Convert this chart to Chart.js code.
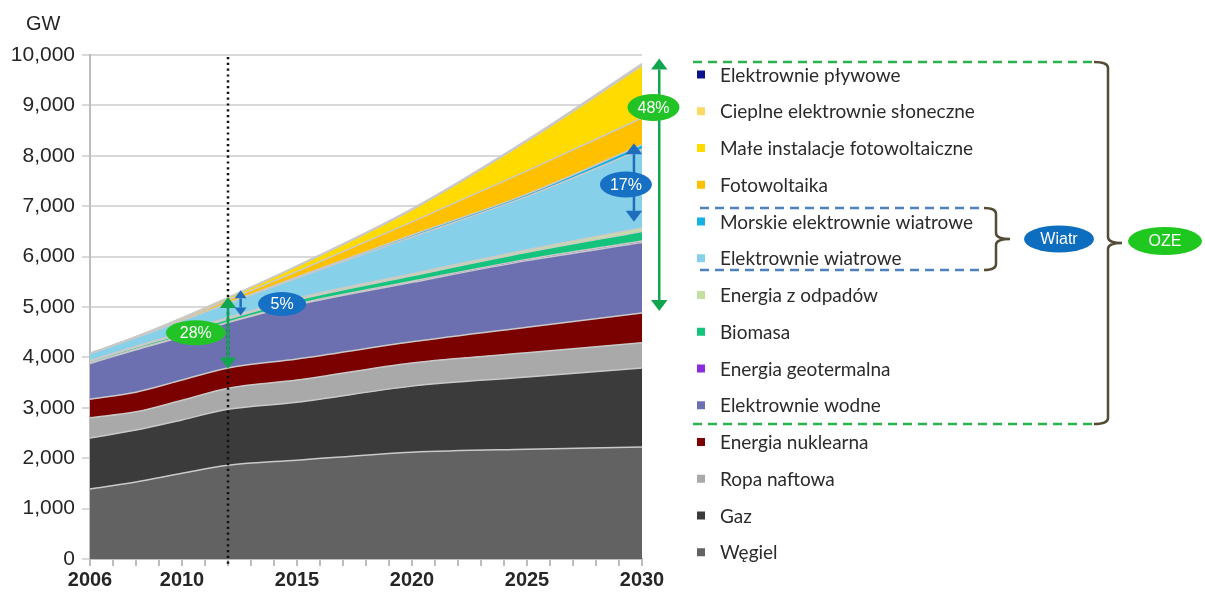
<!DOCTYPE html>
<html>
<head>
<meta charset="utf-8">
<script src="https://cdn.jsdelivr.net/npm/chart.js@4.4.1/dist/chart.umd.min.js"></script>
<style>
  html, body { margin: 0; padding: 0; background: #ffffff; }
  #wrap { width: 1205px; height: 592px; position: relative; }
</style>
</head>
<body>
<div id="wrap"><canvas id="c" width="1205" height="592"></canvas></div>
<script>
// ---- Data (GW) ----
const years = [2006, 2008, 2010, 2012, 2015, 2020, 2025, 2030];
const xTickLabels = [2006, 2010, 2015, 2020, 2025, 2030];
const yTickLabels = [0, 1000, 2000, 3000, 4000, 5000, 6000, 7000, 8000, 9000, 10000];

const wegiel        = [1390, 1530, 1700, 1860, 1960, 2120, 2180, 2220];
const gaz           = [1010, 1030, 1060, 1110, 1150, 1310, 1430, 1570];
const ropa          = [ 400,  360,  390,  420,  440,  460,  480,  500];
const nuklearna     = [ 370,  390,  400,  400,  420,  420,  510,  590];
const wodne         = [ 710,  840,  860,  900, 1075, 1180, 1320, 1400];
const geotermalna   = [  10,   10,   10,   10,   15,   20,   25,   30];
const biomasa       = [  30,   40,   50,   60,   80,  110,  140,  190];
const odpady        = [  20,   20,   25,   30,   35,   40,   50,   70];
const wiatrowe      = [ 130,  170,  230,  280,  400,  730, 1060, 1560];
const morskie       = [   0,    0,    5,   10,   20,   40,   45,   90];
const fotowoltaika  = [   5,   10,   30,   60,  110,  260,  460,  530];
const malePV        = [   5,   10,   20,   40,  100,  240,  590, 1040];
const cieplneSlon   = [   0,    0,    2,    4,    8,   15,   20,   30];
const plywowe       = [   0,    0,    0,    1,    2,    3,    5,    8];

const seriesNames = [
  'Węgiel', 'Gaz', 'Ropa naftowa', 'Energia nuklearna', 'Elektrownie wodne',
  'Energia geotermalna', 'Biomasa', 'Energia z odpadów', 'Elektrownie wiatrowe',
  'Morskie elektrownie wiatrowe', 'Fotowoltaika', 'Małe instalacje fotowoltaiczne',
  'Cieplne elektrownie słoneczne', 'Elektrownie pływowe'
];
const seriesValues = [wegiel, gaz, ropa, nuklearna, wodne, geotermalna, biomasa, odpady,
  wiatrowe, morskie, fotowoltaika, malePV, cieplneSlon, plywowe];
const seriesColors = ['#626262', '#3b3b3b', '#a9a9a9', '#7b0000', '#6c70b0', '#8a2be2',
  '#14c47c', '#c4dfa2', '#86d0ea', '#17b0e3', '#ffc000', '#ffdb00', '#ffd966', '#0a148f'];

const datasets = seriesNames.map((name, i) => ({
  label: name,
  data: years.map((y, j) => ({ x: y, y: seriesValues[i][j] })),
  backgroundColor: seriesColors[i],
  borderColor: '#c9c9c9',
  borderWidth: 1.5,
  pointRadius: 0,
  fill: i === 0 ? 'origin' : '-1',
  cubicInterpolationMode: 'monotone'
}));

// ---- Annotations / legend plugin ----
function dArrow(ctx, x, y1, y2, color, head) {
  ctx.save();
  ctx.strokeStyle = color; ctx.fillStyle = color; ctx.lineWidth = 2.5;
  ctx.beginPath(); ctx.moveTo(x, y1 + head); ctx.lineTo(x, y2 - head); ctx.stroke();
  ctx.beginPath(); ctx.moveTo(x, y1); ctx.lineTo(x - head * 0.75, y1 + head); ctx.lineTo(x + head * 0.75, y1 + head); ctx.closePath(); ctx.fill();
  ctx.beginPath(); ctx.moveTo(x, y2); ctx.lineTo(x - head * 0.75, y2 - head); ctx.lineTo(x + head * 0.75, y2 - head); ctx.closePath(); ctx.fill();
  ctx.restore();
}
function pill(ctx, cx, cy, rx, ry, color, text, size) {
  ctx.save();
  ctx.fillStyle = color;
  ctx.beginPath(); ctx.ellipse(cx, cy, rx, ry, 0, 0, Math.PI * 2); ctx.fill();
  ctx.fillStyle = '#ffffff';
  ctx.font = size + 'px "Liberation Sans", Arial, sans-serif';
  ctx.textAlign = 'center'; ctx.textBaseline = 'middle';
  ctx.fillText(text, cx, cy + 1);
  ctx.restore();
}
function brace(ctx, x0, yTop, yBot, xv, xTip, color) {
  const yMid = (yTop + yBot) / 2;
  const r = 6;
  ctx.save();
  ctx.strokeStyle = color; ctx.lineWidth = 2.5;
  ctx.beginPath();
  ctx.moveTo(x0, yTop);
  ctx.quadraticCurveTo(xv, yTop, xv, yTop + r);
  ctx.lineTo(xv, yMid - r);
  ctx.quadraticCurveTo(xv, yMid, xTip, yMid);
  ctx.moveTo(xTip, yMid);
  ctx.quadraticCurveTo(xv, yMid, xv, yMid + r);
  ctx.lineTo(xv, yBot - r);
  ctx.quadraticCurveTo(xv, yBot, x0, yBot);
  ctx.stroke();
  ctx.restore();
}

const extras = {
  id: 'extras',
  afterDatasetsDraw(chart) {
    const ctx = chart.ctx;
    const xs = chart.scales.x, ys = chart.scales.y;
    const xd = xs.getPixelForValue(2012);
    ctx.save();
    ctx.strokeStyle = '#111'; ctx.lineWidth = 2.5; ctx.setLineDash([2.2, 3.6]);
    ctx.beginPath(); ctx.moveTo(xd, ys.getPixelForValue(10000) + 2); ctx.lineTo(xd, ys.bottom + 7); ctx.stroke();
    ctx.restore();
  },
  afterDraw(chart) {
    const ctx = chart.ctx;
    const xs = chart.scales.x, ys = chart.scales.y;
    const X = v => xs.getPixelForValue(v), Y = v => ys.getPixelForValue(v);
    const green = '#12a550', blue = '#1f6dbd';
    // GW label
    ctx.save();
    ctx.fillStyle = '#262626';
    ctx.font = '20px "Liberation Sans", Arial, sans-serif';
    ctx.textBaseline = 'middle';
    ctx.fillText('GW', 26, 24);
    ctx.restore();

    // arrows and percentages
    dArrow(ctx, X(2012), Y(5200), Y(3780), green, 11);
    pill(ctx, X(2010.6), Y(4490), 30, 12.5, '#22c326', '28%', 16);
    dArrow(ctx, X(2012.55), Y(5330), Y(4830), blue, 8);
    pill(ctx, X(2014.35), Y(5060), 24, 12, '#1670c4', '5%', 16);
    dArrow(ctx, X(2029.65), Y(8250), Y(6690), blue, 11);
    pill(ctx, X(2029.3), Y(7430), 26, 13, '#1670c4', '17%', 16);
    dArrow(ctx, X(2030.75), Y(9930), Y(4920), green, 11);
    pill(ctx, X(2030.5), Y(8960), 26, 13.5, '#22c326', '48%', 16);

    // legend
    const lx = 697, ty = 74.5, dy = 36.75;
    ctx.save();
    ctx.font = '19px Lato, "Open Sans", sans-serif';
    ctx.textBaseline = 'middle';
    for (let i = 0; i < datasets.length; i++) {
      const ds = datasets[datasets.length - 1 - i];
      const y = ty + i * dy;
      ctx.fillStyle = ds.backgroundColor;
      ctx.fillRect(lx, y - 4, 8, 8);
      ctx.fillStyle = '#2b2b2b';
      ctx.fillText(ds.label, 720, y + 1);
    }
    ctx.restore();

    // dashed group lines
    ctx.save();
    ctx.lineWidth = 2.5;
    ctx.strokeStyle = '#2bb24c'; ctx.setLineDash([9, 6]);
    ctx.beginPath(); ctx.moveTo(693, 62); ctx.lineTo(1094, 62); ctx.moveTo(693, 424); ctx.lineTo(1094, 424); ctx.stroke();
    ctx.strokeStyle = '#4f81bd';
    ctx.beginPath(); ctx.moveTo(700, 208); ctx.lineTo(984, 208); ctx.moveTo(700, 270); ctx.lineTo(984, 270); ctx.stroke();
    ctx.restore();
    brace(ctx, 1094, 62, 424, 1108, 1122, '#544c34');
    brace(ctx, 984, 208, 270, 996, 1010, '#544c34');
    pill(ctx, 1059, 239, 35, 13.5, '#0d6dbe', 'Wiatr', 16);
    pill(ctx, 1165, 241, 37, 14, '#1ec81e', 'OZE', 16);
  }
};

new Chart(document.getElementById('c'), {
  type: 'line',
  data: { datasets },
  plugins: [extras],
  options: {
    responsive: false,
    animation: false,
    events: [],
    layout: { padding: { top: 55, right: 563, left: 0, bottom: 0 } },
    plugins: { legend: { display: false }, tooltip: { enabled: false } },
    scales: {
      x: {
        type: 'linear', min: 2006, max: 2030,
        afterFit: s => { s.height = 33; },
        border: { color: '#bdbdbd', width: 2 },
        grid: { drawOnChartArea: false, color: '#bdbdbd', lineWidth: 2, tickLength: 7 },
        afterBuildTicks: s => { s.ticks = []; for (let v = 2006; v <= 2030; v++) s.ticks.push({ value: v }); },
        ticks: {
          autoSkip: false, maxRotation: 0, padding: 2,
          color: '#262626',
          font: { family: '"Liberation Sans", Arial, sans-serif', size: 20, weight: 'bold' },
          callback: v => xTickLabels.includes(v) ? String(v) : ''
        }
      },
      y: {
        stacked: true, min: 0, max: 10000,
        afterFit: s => { s.width = 90; },
        afterBuildTicks: s => { s.ticks = yTickLabels.map(v => ({ value: v })); },
        border: { color: '#bdbdbd', width: 2 },
        grid: { color: '#d9d9d9', lineWidth: 2, tickLength: 8 },
        ticks: {
          padding: 7, color: '#262626',
          font: { family: '"Liberation Sans", Arial, sans-serif', size: 21 },
          callback: v => v.toLocaleString('en-US')
        }
      }
    }
  }
});
</script>
</body>
</html>
